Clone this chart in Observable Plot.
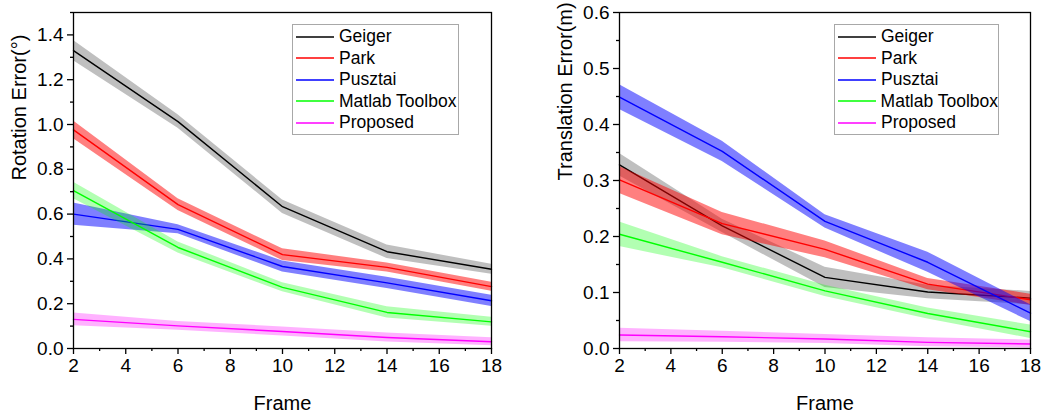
<!DOCTYPE html>
<html><head><meta charset="utf-8">
<script src="https://cdn.jsdelivr.net/npm/d3@7"></script>
<script src="https://cdn.jsdelivr.net/npm/@observablehq/plot@0.6"></script>
<style>
body{margin:0;background:#fff;font-family:"Liberation Sans",Arial,sans-serif;}
#wrap{position:relative;width:1051px;height:413px;overflow:hidden;}
.panel{position:absolute;top:0;}
.legend{position:absolute;border:1px solid #a8a8a8;background:#fff;box-sizing:border-box;padding-top:1px;}
.row{height:21.5px;display:flex;align-items:center;font-size:17.5px;color:#000;white-space:nowrap;}
.row svg{margin-left:3px;margin-right:5px;}
</style>
</head><body>
<div id="wrap"></div>
<script>
const frames = [2, 6, 10, 14, 18];
const methods = ["Geiger", "Park", "Pusztai", "Matlab Toolbox", "Proposed"];
const colors = ["#000000", "#ff0000", "#0000ff", "#00ff00", "#ff00ff"];
const bandOpacity = [0.25, 0.5, 0.5, 0.3, 0.3];

const xTicks = [2, 4, 6, 8, 10, 12, 14, 16, 18];
const xMinor = [3, 5, 7, 9, 11, 13, 15, 17];

// Rotation error (deg): mean and half-width of band
const rotGeiger = [1.33, 1.013, 0.633, 0.432, 0.354];
const rotGeigerErr = [0.045, 0.03, 0.03, 0.03, 0.022];
const rotPark = [0.976, 0.642, 0.419, 0.362, 0.276];
const rotParkErr = [0.04, 0.026, 0.026, 0.02, 0.02];
const rotPusztai = [0.60, 0.532, 0.366, 0.293, 0.213];
const rotPusztaiErr = [0.05, 0.02, 0.025, 0.025, 0.025];
const rotMatlab = [0.705, 0.451, 0.273, 0.161, 0.119];
const rotMatlabErr = [0.037, 0.025, 0.02, 0.025, 0.02];
const rotProposed = [0.13, 0.101, 0.076, 0.049, 0.030];
const rotProposedErr = [0.028, 0.02, 0.02, 0.02, 0.018];
const rotTicks = [0, 0.2, 0.4, 0.6, 0.8, 1.0, 1.2, 1.4];
const rotMinor = [0.1, 0.3, 0.5, 0.7, 0.9, 1.1, 1.3, 1.5];

// Translation error (m)
const trGeiger = [0.328, 0.219, 0.127, 0.101, 0.090];
const trGeigerErr = [0.02, 0.012, 0.018, 0.012, 0.012];
const trPark = [0.301, 0.223, 0.177, 0.115, 0.087];
const trParkErr = [0.024, 0.02, 0.015, 0.01, 0.01];
const trPusztai = [0.449, 0.352, 0.227, 0.154, 0.063];
const trPusztaiErr = [0.022, 0.018, 0.012, 0.018, 0.015];
const trMatlab = [0.204, 0.154, 0.103, 0.0625, 0.030];
const trMatlabErr = [0.022, 0.01, 0.01, 0.01, 0.012];
const trProposed = [0.024, 0.021, 0.017, 0.011, 0.008];
const trProposedErr = [0.012, 0.01, 0.008, 0.008, 0.007];
const trTicks = [0, 0.1, 0.2, 0.3, 0.4, 0.5, 0.6];
const trMinor = [0.05, 0.15, 0.25, 0.35, 0.45, 0.55];

function table(means, errs) {
  const rows = [];
  methods.forEach((m, i) => frames.forEach((f, j) => rows.push({
    method: m, idx: i, frame: f, v: means[i][j], lo: means[i][j] - errs[i][j], hi: means[i][j] + errs[i][j]
  })));
  return rows;
}

function chart({data, yDomain, yTicks, yMinor, yLabel, width, marginLeft, marginRight}) {
  const marks = [];
  methods.forEach((m, i) => {
    const d = data.filter(r => r.method === m);
    marks.push(Plot.areaY(d, {x: "frame", y1: "lo", y2: "hi", fill: colors[i], fillOpacity: bandOpacity[i]}));
    marks.push(Plot.lineY(d, {x: "frame", y: "v", stroke: colors[i], strokeWidth: 1.4}));
  });
  marks.push(
    Plot.frame({stroke: "#000", strokeWidth: 1.3}),
    Plot.axisX({ticks: xTicks, tickSize: 6, tickPadding: 4, label: null, fontSize: 19, strokeWidth: 1.3}),
    Plot.axisX({ticks: xMinor, tickSize: 3, tickFormat: () => "", label: null, strokeWidth: 1.3}),
    Plot.axisY({ticks: yTicks, tickSize: 6, tickPadding: 4, tickFormat: d3.format(".1f"), label: null, fontSize: 19, strokeWidth: 1.3}),
    Plot.axisY({ticks: yMinor, tickSize: 3, tickFormat: () => "", label: null, strokeWidth: 1.3}),
    Plot.text([yLabel], {frameAnchor: "left", dx: -54, rotate: -90, fontSize: 20, fill: "#000"}),
    Plot.text(["Frame"], {frameAnchor: "bottom", dy: 61, fontSize: 20, fill: "#000"})
  );
  return Plot.plot({
    width, height: 413, marginLeft, marginRight, marginTop: 12, marginBottom: 65,
    style: {fontFamily: "Liberation Sans, Arial, sans-serif", color: "#000", background: "transparent", overflow: "visible"},
    x: {domain: [2, 18]},
    y: {domain: yDomain},
    marks
  });
}

function legend(left, top, width) {
  const div = document.createElement("div");
  div.className = "legend";
  div.style.left = left + "px"; div.style.top = top + "px";
  div.style.width = width + "px"; div.style.height = "111px";
  methods.forEach((m, i) => {
    const row = document.createElement("div");
    row.className = "row";
    row.innerHTML = `<svg width="38" height="4"><line x1="0" x2="38" y1="2" y2="2" stroke="${colors[i]}" stroke-width="1.4"/></svg><span>${m}</span>`;
    div.appendChild(row);
  });
  return div;
}

const wrap = document.getElementById("wrap");
const rot = chart({
  data: table([rotGeiger, rotPark, rotPusztai, rotMatlab, rotProposed], [rotGeigerErr, rotParkErr, rotPusztaiErr, rotMatlabErr, rotProposedErr]),
  yDomain: [0, 1.5], yTicks: rotTicks, yMinor: rotMinor, yLabel: "Rotation Error(°)",
  width: 525, marginLeft: 73, marginRight: 34
});
const tr = chart({
  data: table([trGeiger, trPark, trPusztai, trMatlab, trProposed], [trGeigerErr, trParkErr, trPusztaiErr, trMatlabErr, trProposedErr]),
  yDomain: [0, 0.6], yTicks: trTicks, yMinor: trMinor, yLabel: "Translation Error(m)",
  width: 526, marginLeft: 94, marginRight: 21
});
const p1 = document.createElement("div"); p1.className = "panel"; p1.style.left = "0px"; p1.appendChild(rot);
const p2 = document.createElement("div"); p2.className = "panel"; p2.style.left = "525px"; p2.appendChild(tr);
wrap.appendChild(p1); wrap.appendChild(p2);
wrap.appendChild(legend(292, 24, 167));
wrap.appendChild(legend(834, 24, 165));
</script>
</body></html>
